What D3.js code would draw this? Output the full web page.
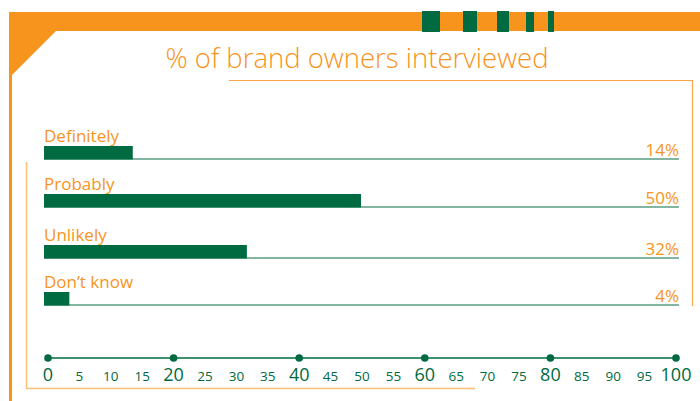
<!DOCTYPE html>
<html>
<head>
<meta charset="utf-8">
<script src="https://cdn.jsdelivr.net/npm/d3@7"></script>
<style>
  body { margin: 0; background: #fff; }
  svg { display: block; }
</style>
</head>
<body>
<svg id="chart" width="700" height="401"></svg>
<script>
//  data
const categories = ["Definitely", "Probably", "Unlikely", "Don\u2019t know"];
const values = [14, 50, 32, 4];
const majorTicks = [0, 20, 40, 60, 80, 100];
const minorTicks = [5, 10, 15, 25, 30, 35, 45, 50, 55, 65, 70, 75, 85, 90, 95];
const title = "% of brand owners interviewed";

const ORANGE = "#f7941d";
const GREEN = "#006a41";

//  draw
function draw_chart() {
  const svg = d3.select("#chart");
  svg.selectAll("*").remove();

  // frame decoration
  svg.append("path")
      .attr("d", "M9,12 H700 V31 H56 L12,75 V401 H9 Z")
      .attr("fill", ORANGE);

  const blocks = [[422, 440, 11], [463, 477, 11], [497, 509, 11], [526, 534, 12], [548, 554, 11]];
  svg.selectAll("rect.block")
    .data(blocks)
    .join("rect")
      .attr("class", "block")
      .attr("x", d => d[0])
      .attr("y", d => d[2])
      .attr("width", d => d[1] - d[0])
      .attr("height", d => 32 - d[2])
      .attr("fill", GREEN);

  svg.append("path")
      .attr("d", "M229,80.5 H692.5 V306")
      .attr("fill", "none")
      .attr("stroke", "#f9a54a")
      .attr("stroke-width", 1.2);

  svg.append("path")
      .attr("d", "M26.5,162 V388.5 H475")
      .attr("fill", "none")
      .attr("stroke", "#fbbf78")
      .attr("stroke-width", 1.5);

  svg.append("text")
      .attr("x", 357)
      .attr("y", 68)
      .attr("text-anchor", "middle")
      .attr("fill", ORANGE)
      .style("font-family", "'Open Sans', sans-serif")
      .style("font-size", "27.5px")
      .style("font-weight", 300)
      .text(title);

  // bars
  const x = d3.scaleLinear().domain([0, 100]).range([44, 678]);
  const rowTop = [146, 194, 245, 292];
  const barH = 13.5;

  const rows = svg.selectAll("g.row")
    .data(categories)
    .join("g")
      .attr("class", "row")
      .attr("transform", (d, i) => `translate(0,${rowTop[i]})`);

  rows.append("line")
      .attr("x1", x(0))
      .attr("x2", 679)
      .attr("y1", barH - 0.5)
      .attr("y2", barH - 0.5)
      .attr("stroke", "#5a9e80")
      .attr("stroke-width", 1.5);

  rows.append("rect")
      .attr("x", x(0))
      .attr("y", 0)
      .attr("width", (d, i) => x(values[i]) - x(0))
      .attr("height", barH)
      .attr("fill", GREEN);

  rows.append("text")
      .attr("x", x(0))
      .attr("y", -4)
      .attr("fill", ORANGE)
      .style("font-family", "'Open Sans', sans-serif")
      .style("font-size", "17px")
      .text(d => d);

  rows.append("text")
      .attr("x", 679)
      .attr("y", barH - 4)
      .attr("text-anchor", "end")
      .attr("fill", ORANGE)
      .style("font-family", "'Open Sans', sans-serif")
      .style("font-size", "17px")
      .text((d, i) => values[i] + "%");

  // axis
  const xa = d3.scaleLinear().domain([0, 100]).range([48, 676]);
  const axisY = 358;

  svg.append("line")
      .attr("x1", xa(0))
      .attr("x2", xa(100))
      .attr("y1", axisY)
      .attr("y2", axisY)
      .attr("stroke", GREEN)
      .attr("stroke-width", 1.5);

  svg.selectAll("circle.tick")
    .data(majorTicks)
    .join("circle")
      .attr("class", "tick")
      .attr("cx", d => xa(d))
      .attr("cy", axisY)
      .attr("r", 3.8)
      .attr("fill", GREEN);

  svg.selectAll("text.major")
    .data(majorTicks)
    .join("text")
      .attr("class", "major")
      .attr("x", d => xa(d))
      .attr("y", 381)
      .attr("text-anchor", "middle")
      .attr("fill", GREEN)
      .style("font-family", "'Open Sans', sans-serif")
      .style("font-size", "18px")
      .text(d => d);

  svg.selectAll("text.minor")
    .data(minorTicks)
    .join("text")
      .attr("class", "minor")
      .attr("x", d => xa(d))
      .attr("y", 381)
      .attr("text-anchor", "middle")
      .attr("fill", GREEN)
      .style("font-family", "'Open Sans', sans-serif")
      .style("font-size", "13.5px")
      .text(d => d);
}

draw_chart();
</script>
</body>
</html>
